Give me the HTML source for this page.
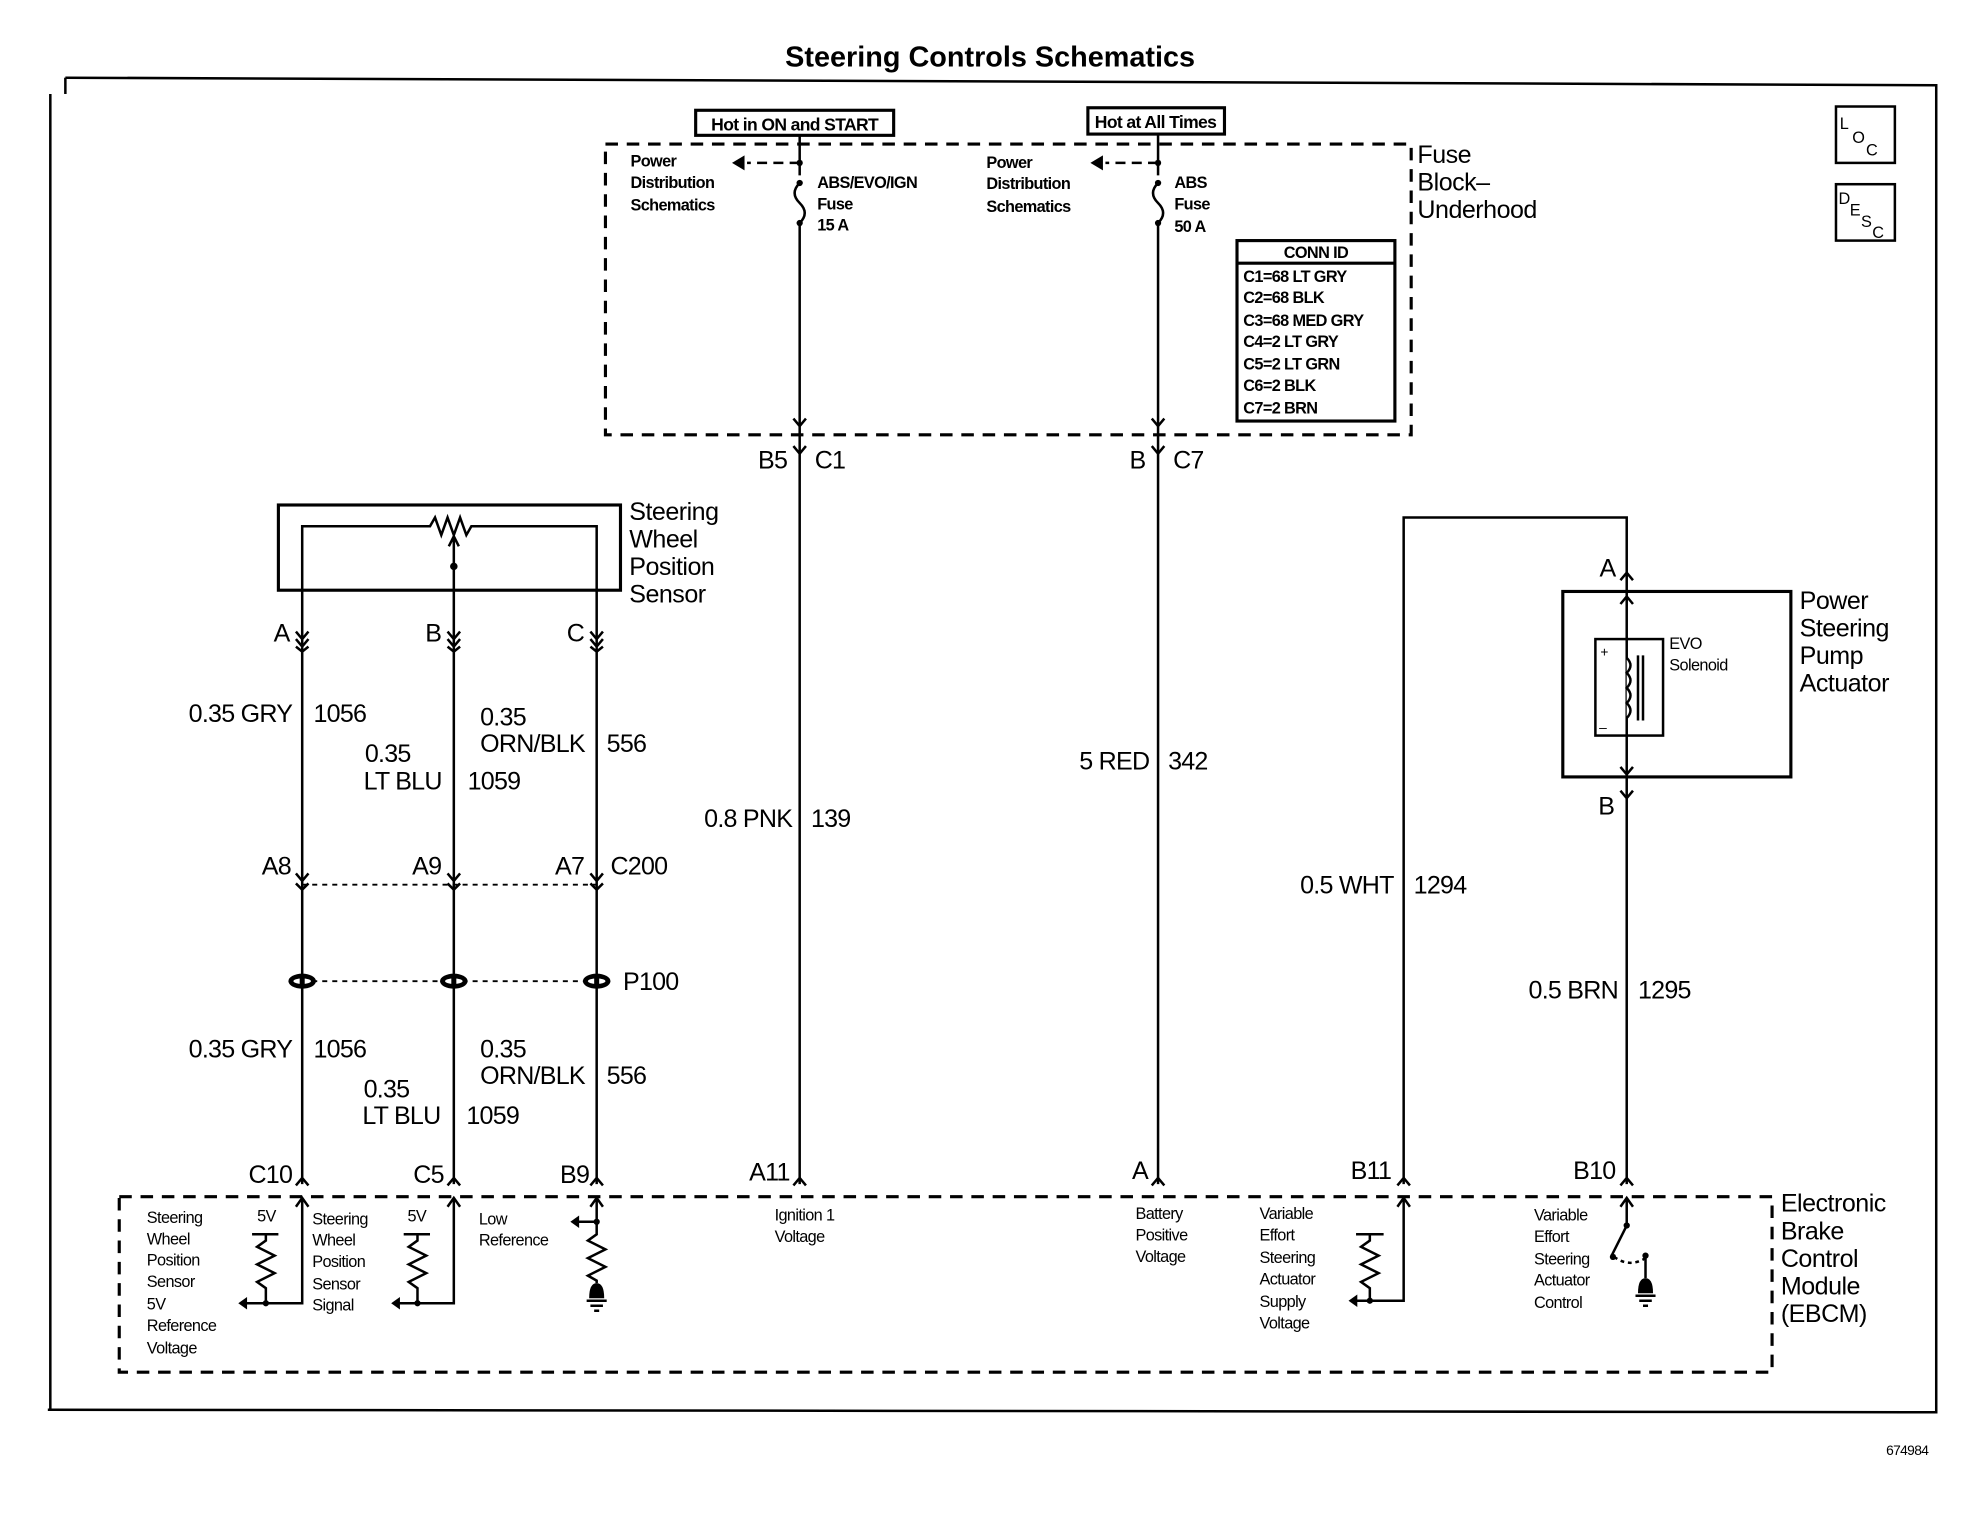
<!DOCTYPE html>
<html><head><meta charset="utf-8"><style>
html,body{margin:0;padding:0;background:#fff;width:1964px;height:1520px;overflow:hidden}
svg{display:block}
text{font-family:"Liberation Sans",Arial,sans-serif;fill:#000}
.s{font-size:13px;letter-spacing:-0.5px}
.m{font-size:20px;letter-spacing:-0.6px}
.l{font-size:20px;letter-spacing:-0.4px}
</style></head><body>
<svg width="1964" height="1520" viewBox="0 0 1567 1213" xmlns="http://www.w3.org/2000/svg">
<g fill="none" stroke="#000" stroke-width="2">
<polyline points="52,62 1545,68 1545,1127 38,1125"/>
<line x1="40" y1="75" x2="40" y2="1124"/>
<line x1="52" y1="62" x2="52" y2="75"/>
<rect x="1465" y="85" width="47" height="45"/>
<rect x="1465" y="147" width="47" height="45"/>
<rect x="483" y="115" width="643" height="232" stroke-dasharray="10,7" stroke-width="2.5"/>
<rect x="555" y="88" width="158" height="20" stroke-width="2.5"/>
<rect x="868" y="86" width="109" height="21" stroke-width="2.5"/>
<path d="M638,108 V140 M638,178 V945"/>
<path d="M638,146 q-8,8 0,16 q8,8 0,16" />
<path d="M638,130 H596" stroke-dasharray="8,5"/>
<path d="M638,340 l-5,-6 M638,340 l5,-6 M633,356 L638,362 L643,356"/>
<path d="M924,108 V140 M924,178 V945"/>
<path d="M924,146 q-8,8 0,16 q8,8 0,16" />
<path d="M924,130 H882" stroke-dasharray="8,5"/>
<path d="M924,340 l-5,-6 M924,340 l5,-6 M919,356 L924,362 L929,356"/>
<rect x="987" y="192" width="126" height="144" stroke-width="2.5"/>
<line x1="987" y1="210" x2="1113" y2="210" stroke-width="2.5"/>
<rect x="222" y="403" width="273" height="68" stroke-width="2.5"/>
<path d="M241,517 V420 H343 l4,-7 l5,14 l5,-14 l5,14 l5,-14 l5,14 l4,-7 H476 V517"/>
<path d="M362,517 V428 M358,436 L362,428 L366,436"/>
<path d="M236,504 L241,510 L246,504 M236,510 L241,516 L246,510 M236,516 L241,520 L246,516"/>
<path d="M357,504 L362,510 L367,504 M357,510 L362,516 L367,510 M357,516 L362,520 L367,516"/>
<path d="M471,504 L476,510 L481,504 M471,510 L476,516 L481,510 M471,516 L476,520 L481,516"/>
<path d="M241,517 V945 M362,517 V945 M476,517 V945"/>
<path d="M236,697 L241,703 L246,697 M236,705 L241,710 L246,705"/>
<path d="M357,697 L362,703 L367,697 M357,705 L362,710 L367,705"/>
<path d="M471,697 L476,703 L481,697 M471,705 L476,710 L481,705"/>
<path d="M241,706 H476" stroke-dasharray="4,4" stroke-width="1.5"/>
<path d="M241,783 H476" stroke-dasharray="4,4" stroke-width="1.5"/>
<path d="M236,946 L241,940 L246,946 M357,946 L362,940 L367,946 M471,946 L476,940 L481,946 M633,946 L638,940 L643,946 M919,946 L924,940 L929,946 M1115,946 L1120,940 L1125,946 M1293,946 L1298,940 L1303,946"/>
<rect x="95" y="955" width="1319" height="140" stroke-dasharray="10,7" stroke-width="2.5"/>
<path d="M1120,945 V413 H1298 V945"/>
<path d="M1293,463 L1298,457 L1303,463"/>
<path d="M1293,482 L1298,476 L1303,482 M1293,612 L1298,618 L1303,612"/>
<path d="M1293,631 L1298,637 L1303,631"/>
<rect x="1247" y="472" width="182" height="148" stroke-width="2.5"/>
<rect x="1273" y="510" width="54" height="77"/>
<path d="M1298,525 q6,6 0,12 q6,6 0,12 q6,6 0,12 q6,6 0,12" fill="#fff"/>
<path d="M1307,523 V575 M1311,523 V575"/>
<path d="M201,985 H222 M212,985 V990 l-7,5 l14,7 l-14,7 l14,7 l-14,7 l7,5 V1040 M241,956 V1040 H195"/>
<path d="M322,985 H343 M333,985 V990 l-7,5 l14,7 l-14,7 l14,7 l-14,7 l7,5 V1040 M362,956 V1040 H318"/>
<path d="M476,956 V985 l-7,5 l14,7 l-14,7 l14,7 l-14,7 l7,4 V1024 M476,975 H461"/>
<path d="M468,1038 H484 M471,1042 H481 M474,1046 H478"/>
<path d="M1082,985 H1104 M1093,985 V990 l-7,5 l14,7 l-14,7 l14,7 l-14,7 l7,5 V1038 M1120,956 V1038 H1082"/>
<path d="M1298,956 V978 L1286,1002"/>
<path d="M1288,1003 Q1300,1012 1313,1004" stroke-dasharray="3,3"/>
<path d="M1313,1002 V1020 M1305,1034 H1321 M1308,1038 H1318 M1311,1042 H1315"/>
<path d="M1115,963 L1120,956 L1125,963 M1293,963 L1298,956 L1303,963 M471,963 L476,956 L481,963 M236,963 L241,956 L246,963 M357,963 L362,956 L367,963"/>
</g>
<g fill="#000">
<path d="M197,1035 L190,1040 L197,1045Z"/><path d="M319,1035 L312,1040 L319,1045Z"/>
<path d="M462,970 L455,975 L462,980Z"/><path d="M1083,1033 L1076,1038 L1083,1043Z"/>
<circle cx="638" cy="130" r="2.5"/><circle cx="638" cy="146" r="2.5"/><circle cx="638" cy="178" r="2.5"/>
<circle cx="924" cy="130" r="2.5"/><circle cx="924" cy="146" r="2.5"/><circle cx="924" cy="178" r="2.5"/>
<path d="M594,124 L584,130 L594,136Z"/><path d="M880,124 L870,130 L880,136Z"/>
<circle cx="362" cy="452" r="3"/>
<ellipse cx="241" cy="783" rx="11" ry="6"/><ellipse cx="362" cy="783" rx="11" ry="6"/><ellipse cx="476" cy="783" rx="11" ry="6"/>
<circle cx="212" cy="1040" r="2.5"/><circle cx="333" cy="1040" r="2.5"/><circle cx="476" cy="975" r="2.5"/>
<circle cx="1093" cy="1038" r="2.5"/><circle cx="1298" cy="978" r="2.5"/><circle cx="1287" cy="1003" r="2.5"/><circle cx="1313" cy="1002" r="2.5"/>
<path d="M470,1036 Q470,1024 476,1024 Q482,1024 482,1036Z"/>
<path d="M1307,1032 Q1307,1020 1313,1020 Q1319,1020 1319,1032Z"/>
</g>
<g fill="#fff"><ellipse cx="241" cy="783" rx="7" ry="2.2"/><ellipse cx="362" cy="783" rx="7" ry="2.2"/><ellipse cx="476" cy="783" rx="7" ry="2.2"/></g>
<g fill="#000"><rect x="239" y="780" width="4" height="6"/><rect x="360" y="780" width="4" height="6"/><rect x="474" y="780" width="4" height="6"/></g>

<text x="790" y="53" text-anchor="middle" style="font-size:23px;font-weight:bold;letter-spacing:0px">Steering Controls Schematics</text>
<text x="1505" y="1161" class="s" style="font-size:11px">674984</text>
<text x="1468" y="103" style="font-size:13px">L</text><text x="1478" y="114" style="font-size:13px">O</text><text x="1489" y="124" style="font-size:13px">C</text>
<text x="1467" y="163" style="font-size:13px">D</text><text x="1476" y="172" style="font-size:13px">E</text><text x="1485" y="181" style="font-size:13px">S</text><text x="1494" y="190" style="font-size:13px">C</text>

<text x="634" y="104" text-anchor="middle" class="s" style="font-size:14px;font-weight:bold">Hot in ON and START</text>
<text x="922" y="102" text-anchor="middle" class="s" style="font-size:14px;font-weight:bold">Hot at All Times</text>
<g class="s" style="font-weight:bold">
<text x="503" y="133">Power</text><text x="503" y="150">Distribution</text><text x="503" y="168">Schematics</text>
<text x="787" y="134">Power</text><text x="787" y="151">Distribution</text><text x="787" y="169">Schematics</text>
<text x="652" y="150">ABS/EVO/IGN</text><text x="652" y="167">Fuse</text><text x="652" y="184">15 A</text>
<text x="937" y="150">ABS</text><text x="937" y="167">Fuse</text><text x="937" y="185">50 A</text>
<text x="1050" y="206" text-anchor="middle">CONN ID</text>
<text x="992" y="225">C1=68 LT GRY</text><text x="992" y="242">C2=68 BLK</text><text x="992" y="260">C3=68 MED GRY</text>
<text x="992" y="277">C4=2 LT GRY</text><text x="992" y="295">C5=2 LT GRN</text><text x="992" y="312">C6=2 BLK</text><text x="992" y="330">C7=2 BRN</text>
</g>
<g class="l">
<text x="1131" y="130">Fuse</text><text x="1131" y="152">Block–</text><text x="1131" y="174">Underhood</text>
<text x="502" y="415">Steering</text><text x="502" y="437">Wheel</text><text x="502" y="459">Position</text><text x="502" y="481">Sensor</text>
<text x="1436" y="486">Power</text><text x="1436" y="508">Steering</text><text x="1436" y="530">Pump</text><text x="1436" y="552">Actuator</text>
<text x="1421" y="967">Electronic</text><text x="1421" y="989">Brake</text><text x="1421" y="1011">Control</text><text x="1421" y="1033">Module</text><text x="1421" y="1055">(EBCM)</text>
</g>
<g class="m">
<text x="628" y="374" text-anchor="end">B5</text><text x="650" y="374">C1</text>
<text x="914" y="374" text-anchor="end">B</text><text x="936" y="374">C7</text>
<text x="231" y="512" text-anchor="end">A</text><text x="352" y="512" text-anchor="end">B</text><text x="466" y="512" text-anchor="end">C</text>
<text x="233" y="576" text-anchor="end">0.35 GRY</text><text x="250" y="576">1056</text>
<text x="383" y="579">0.35</text><text x="383" y="600">ORN/BLK</text><text x="484" y="600">556</text>
<text x="291" y="608">0.35</text><text x="290" y="630">LT BLU</text><text x="373" y="630">1059</text>
<text x="232" y="698" text-anchor="end">A8</text><text x="352" y="698" text-anchor="end">A9</text><text x="466" y="698" text-anchor="end">A7</text><text x="487" y="698">C200</text>
<text x="497" y="790">P100</text>
<text x="233" y="844" text-anchor="end">0.35 GRY</text><text x="250" y="844">1056</text>
<text x="383" y="844">0.35</text><text x="383" y="865">ORN/BLK</text><text x="484" y="865">556</text>
<text x="290" y="876">0.35</text><text x="289" y="897">LT BLU</text><text x="372" y="897">1059</text>
<text x="233" y="944" text-anchor="end">C10</text><text x="354" y="944" text-anchor="end">C5</text><text x="470" y="944" text-anchor="end">B9</text>
<text x="630" y="942" text-anchor="end">A11</text><text x="916" y="941" text-anchor="end">A</text>
<text x="1110" y="941" text-anchor="end">B11</text><text x="1289" y="941" text-anchor="end">B10</text>
<text x="632" y="660" text-anchor="end">0.8 PNK</text><text x="647" y="660">139</text>
<text x="917" y="614" text-anchor="end">5 RED</text><text x="932" y="614">342</text>
<text x="1112" y="713" text-anchor="end">0.5 WHT</text><text x="1128" y="713">1294</text>
<text x="1291" y="797" text-anchor="end">0.5 BRN</text><text x="1307" y="797">1295</text>
<text x="1289" y="460" text-anchor="end">A</text><text x="1288" y="650" text-anchor="end">B</text>
</g>
<g class="s">
<text x="1332" y="518">EVO</text><text x="1332" y="535">Solenoid</text>
<text x="1277" y="524" style="font-size:11px">+</text><text x="1276" y="584" style="font-size:11px">–</text>
<text x="117" y="976">Steering</text><text x="117" y="993">Wheel</text><text x="117" y="1010">Position</text><text x="117" y="1027">Sensor</text><text x="117" y="1045">5V</text><text x="117" y="1062">Reference</text><text x="117" y="1080">Voltage</text>
<text x="205" y="975">5V</text><text x="325" y="975">5V</text>
<text x="249" y="977">Steering</text><text x="249" y="994">Wheel</text><text x="249" y="1011">Position</text><text x="249" y="1029">Sensor</text><text x="249" y="1046">Signal</text>
<text x="382" y="977">Low</text><text x="382" y="994">Reference</text>
<text x="618" y="974">Ignition 1</text><text x="618" y="991">Voltage</text>
<text x="906" y="973">Battery</text><text x="906" y="990">Positive</text><text x="906" y="1007">Voltage</text>
<text x="1005" y="973">Variable</text><text x="1005" y="990">Effort</text><text x="1005" y="1008">Steering</text><text x="1005" y="1025">Actuator</text><text x="1005" y="1043">Supply</text><text x="1005" y="1060">Voltage</text>
<text x="1224" y="974">Variable</text><text x="1224" y="991">Effort</text><text x="1224" y="1009">Steering</text><text x="1224" y="1026">Actuator</text><text x="1224" y="1044">Control</text>
</g>
</svg>
</body></html>
